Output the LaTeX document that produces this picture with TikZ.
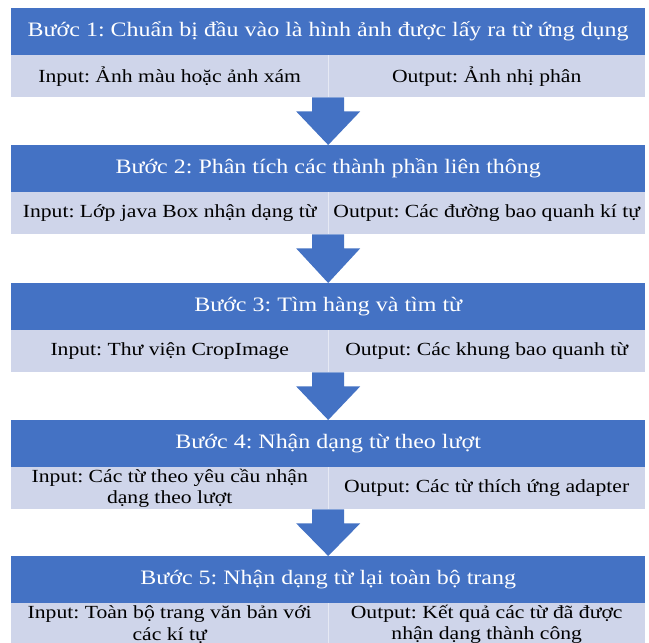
\documentclass[tikz,border=0pt]{standalone}
\usepackage{fontspec}
\setmainfont{Liberation Serif}[FakeStretch=1.17]
\usetikzlibrary{calc}
\definecolor{hdrblue}{HTML}{4472C4}
\definecolor{sublav}{HTML}{CFD5EA}
\definecolor{divline}{HTML}{E6E9F4}
\tikzset{
  hdr/.style={fill=hdrblue, draw=none, text=white, minimum width=634pt, minimum height=47pt,
    inner sep=0pt, anchor=north west, font=\fontsize{20.5}{24}\selectfont},
  subcell/.style={fill=sublav, draw=none, text=black, minimum width=317pt, minimum height=42pt,
    inner sep=0pt, anchor=north west, align=center, font=\fontsize{18.5}{21.8}\selectfont},
  divider/.style={draw=divline, line width=0.8pt},
  barrow/.style={fill=hdrblue, draw=none}
}
\newcommand{\blockarrow}[2]{%
  \fill[barrow] let \p1=(#1), \p2=(#2) in
    (\x2-16pt,\y1) -- (\x2+16pt,\y1) -- (\x2+16pt,\y1-14pt) -- (\x2+32pt,\y1-14pt)
    -- (\x2,\y2) -- (\x2-32pt,\y1-14pt) -- (\x2-16pt,\y1-14pt) -- cycle;}
\frenchspacing
\begin{document}
\begin{tikzpicture}[x=1pt,y=-1pt]
\useasboundingbox (0,0) rectangle (649,643);
\fill[white] (0,0) rectangle (649,643);
\begin{scope}
\clip (0,0) rectangle (649,643);
% Step 1
\node[hdr] (h1) at (11,8) {Bước 1: Chuẩn bị đầu vào là hình ảnh được lấy ra từ ứng dụng};
\node[subcell] (s1l) at (11,55) {Input: Ảnh màu hoặc ảnh xám};
\node[subcell] (s1r) at (328,55) {Output: Ảnh nhị phân};
\draw[divider] (s1l.north east) -- (s1l.south east);
% Step 2
\node[hdr] (h2) at (11,145) {Bước 2: Phân tích các thành phần liên thông};
\node[subcell] (s2l) at (11,192) {Input: Lớp java Box nhận dạng từ};
\node[subcell] (s2r) at (328,192) {Output: Các đường bao quanh kí tự};
\draw[divider] (s2l.north east) -- (s2l.south east);
% Step 3
\node[hdr] (h3) at (11,283) {Bước 3: Tìm hàng và tìm từ};
\node[subcell] (s3l) at (11,330) {Input: Thư viện CropImage};
\node[subcell] (s3r) at (328,330) {Output: Các khung bao quanh từ};
\draw[divider] (s3l.north east) -- (s3l.south east);
% Step 4
\node[hdr] (h4) at (11,420) {Bước 4: Nhận dạng từ theo lượt};
\node[subcell] (s4l) at (11,467) {Input: Các từ theo yêu cầu nhận\\dạng theo lượt};
\node[subcell] (s4r) at (328,467) {Output: Các từ thích ứng adapter};
\draw[divider] (s4l.north east) -- (s4l.south east);
% Step 5
\node[hdr] (h5) at (11,556) {Bước 5: Nhận dạng từ lại toàn bộ trang};
\node[subcell] (s5l) at (11,603) {Input: Toàn bộ trang văn bản với\\các kí tự};
\node[subcell] (s5r) at (328,603) {Output: Kết quả các từ đã được\\nhận dạng thành công};
\draw[divider] (s5l.north east) -- (s5l.south east);
% Arrows
\blockarrow{s1l.south east}{h2.north}
\blockarrow{s2l.south east}{h3.north}
\blockarrow{s3l.south east}{h4.north}
\blockarrow{s4l.south east}{h5.north}
\end{scope}
\end{tikzpicture}
\end{document}
